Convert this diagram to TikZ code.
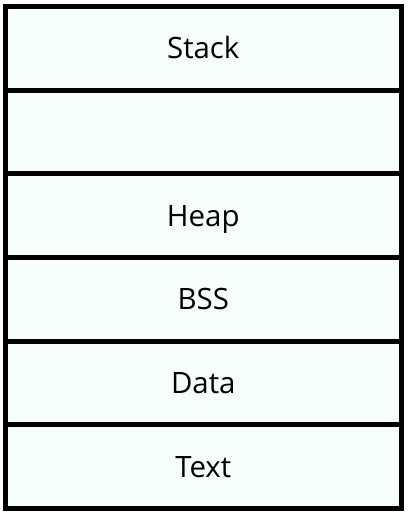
\documentclass[tikz,border=0pt]{standalone}
\usepackage{fontspec}
\setmainfont{Open Sans}
\definecolor{segfill}{HTML}{F5FEF9}
\tikzset{
  seg/.style={draw=black, line width=5bp, fill=segfill, minimum width=395.5bp,
    minimum height=83.67bp, inner sep=0pt, outer sep=0pt, anchor=north west,
    text height=21bp, text depth=0bp,
    font=\fontsize{29.5}{34}\selectfont}
}
\begin{document}
\begin{tikzpicture}[x=1bp,y=1bp]
  \useasboundingbox (0,0) rectangle (407,513);
  \fill[white] (0,0) rectangle (407,513);
  % memory segments, top to bottom
  \node[seg] (stack) at (5.5,506.5) {Stack};
  \node[seg] (gap)   at (stack.south west) {};
  \node[seg] (heap)  at (gap.south west) {Heap};
  \node[seg] (bss)   at (heap.south west) {BSS};
  \node[seg] (data)  at (bss.south west) {Data};
  \node[seg] (text)  at (data.south west) {Text};
\end{tikzpicture}
\end{document}
